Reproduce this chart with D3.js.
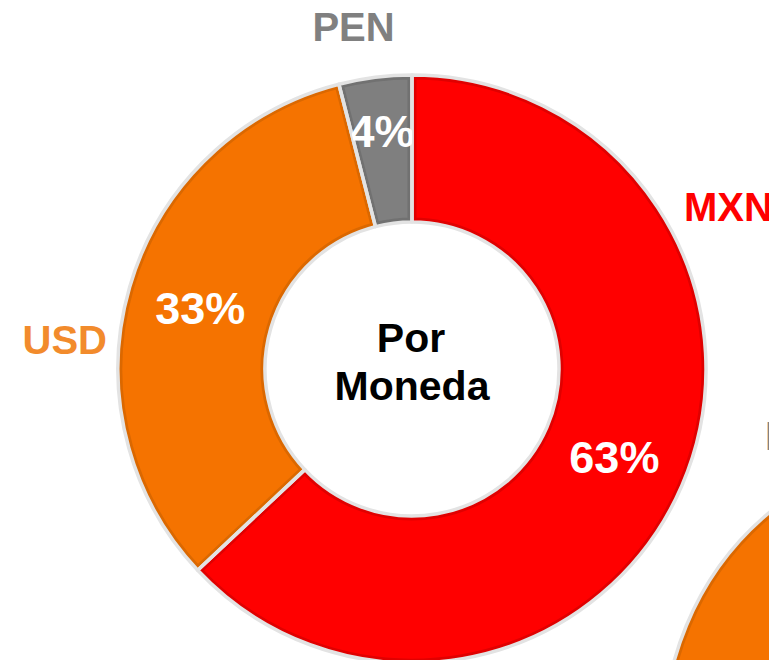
<!DOCTYPE html>
<html>
<head>
<meta charset="utf-8">
<script src="https://cdn.jsdelivr.net/npm/d3@7"></script>
<style>
  html, body { margin: 0; padding: 0; background: #fff; }
  svg { display: block; font-family: "Liberation Sans", Arial, sans-serif; font-weight: bold; }
</style>
</head>
<body>
<div id="chart"></div>
<script>
// main donut: "Por Moneda"
var categories = ["MXN", "USD", "PEN"];
var values = [63, 33, 4];
var pctLabels = ["63%", "33%", "4%"];
var fills = ["#ff0000", "#f57300", "#7f7f7f"];
var edges = ["#e00000", "#db6800", "#717171"];
var nameColors = ["#ff0000", "#f28b2c", "#808080"];

// second donut, only a corner of it is inside the picture
var categories2 = ["MXN", "USD", "PEN"];
var values2 = [55, 35, 10];
var fills2 = ["#ff0000", "#f57300", "#7f7f7f"];
var edges2 = ["#e00000", "#db6800", "#717171"];

var width = 769,
    height = 660;

var outerR = 294,
    innerR = 147;

var svg = d3.select("#chart").append("svg")
    .attr("width", width)
    .attr("height", height);

var defs = svg.append("defs");

const arc = d3.arc()
    .innerRadius(innerR)
    .outerRadius(outerR);

const pie = d3.pie()
    .sort(null)
    .value(d => d.value);

function drawDonut(id, cx, cy, cats, vals, fillList, edgeList) {
    var rows = cats.map((c, i) => ({name: c, value: vals[i], fill: fillList[i], edge: edgeList[i], i: i}));
    var arcs = pie(rows);

    var g = svg.append("g")
        .attr("transform", "translate(" + cx + "," + cy + ")");

    // clip per slice, so the darker border stays inside
    arcs.forEach((d) => {
        defs.append("clipPath")
            .attr("id", id + "-clip-" + d.data.i)
            .append("path")
            .attr("d", arc(d));
    });

    g.selectAll(".slice")
        .data(arcs)
        .enter()
        .append("path")
        .attr("class", "slice")
        .attr("d", arc)
        .attr("fill", d => d.data.fill)
        .attr("stroke", d => d.data.edge)
        .attr("stroke-width", 9)
        .attr("clip-path", d => "url(#" + id + "-clip-" + d.data.i + ")");

    // light grey separator round every slice
    g.selectAll(".sep")
        .data(arcs)
        .enter()
        .append("path")
        .attr("class", "sep")
        .attr("d", arc)
        .attr("fill", "none")
        .attr("stroke", "#e3e3e3")
        .attr("stroke-width", 3.5)
        .attr("stroke-linejoin", "round");

    return {g: g, arcs: arcs};
}

var cx = 412, cy = 369;
var main = drawDonut("m", cx, cy, categories, values, fills, edges);

// percent labels, at the middle of the ring (small slice a bit further out)
main.g.selectAll(".pct")
    .data(main.arcs)
    .enter()
    .append("g")
    .attr("class", "pct")
    .attr("clip-path", d => "url(#m-clip-" + d.data.i + ")")
    .append("text")
    .attr("transform", function (d) {
        var a = (d.startAngle + d.endAngle) / 2;
        var r = d.data.value < 10 ? 240 : (innerR + outerR) / 2;
        return "translate(" + (r * Math.sin(a)) + "," + (-r * Math.cos(a)) + ")";
    })
    .attr("text-anchor", "middle")
    .attr("dy", "0.36em")
    .attr("font-size", "45px")
    .attr("fill", "white")
    .text(d => pctLabels[d.data.i]);

// category names outside the ring
var namePos = {
    MXN: {x: 684, y: 221, anchor: "start"},
    USD: {x: 107, y: 354, anchor: "end"},
    PEN: {x: 353.5, y: 41, anchor: "middle"}
};

svg.selectAll(".name")
    .data(categories)
    .enter()
    .append("text")
    .attr("class", "name")
    .attr("x", d => namePos[d].x)
    .attr("y", d => namePos[d].y)
    .attr("text-anchor", d => namePos[d].anchor)
    .attr("font-size", "40px")
    .attr("fill", (d, i) => nameColors[i])
    .text(d => d);

// title in the hole
var title = svg.append("text")
    .attr("text-anchor", "middle")
    .attr("font-size", "41px")
    .attr("fill", "#000");

title.append("tspan")
    .attr("x", cx - 1)
    .attr("y", 352)
    .text("Por");

title.append("tspan")
    .attr("x", cx)
    .attr("y", 400)
    .text("Moneda");

// second donut, bottom right
var second = drawDonut("s", 958, 738, categories2, values2, fills2, edges2);

svg.append("text")
    .attr("x", 765)
    .attr("y", 450)
    .attr("font-size", "40px")
    .attr("fill", "#808080")
    .text("PEN");
</script>
</body>
</html>
